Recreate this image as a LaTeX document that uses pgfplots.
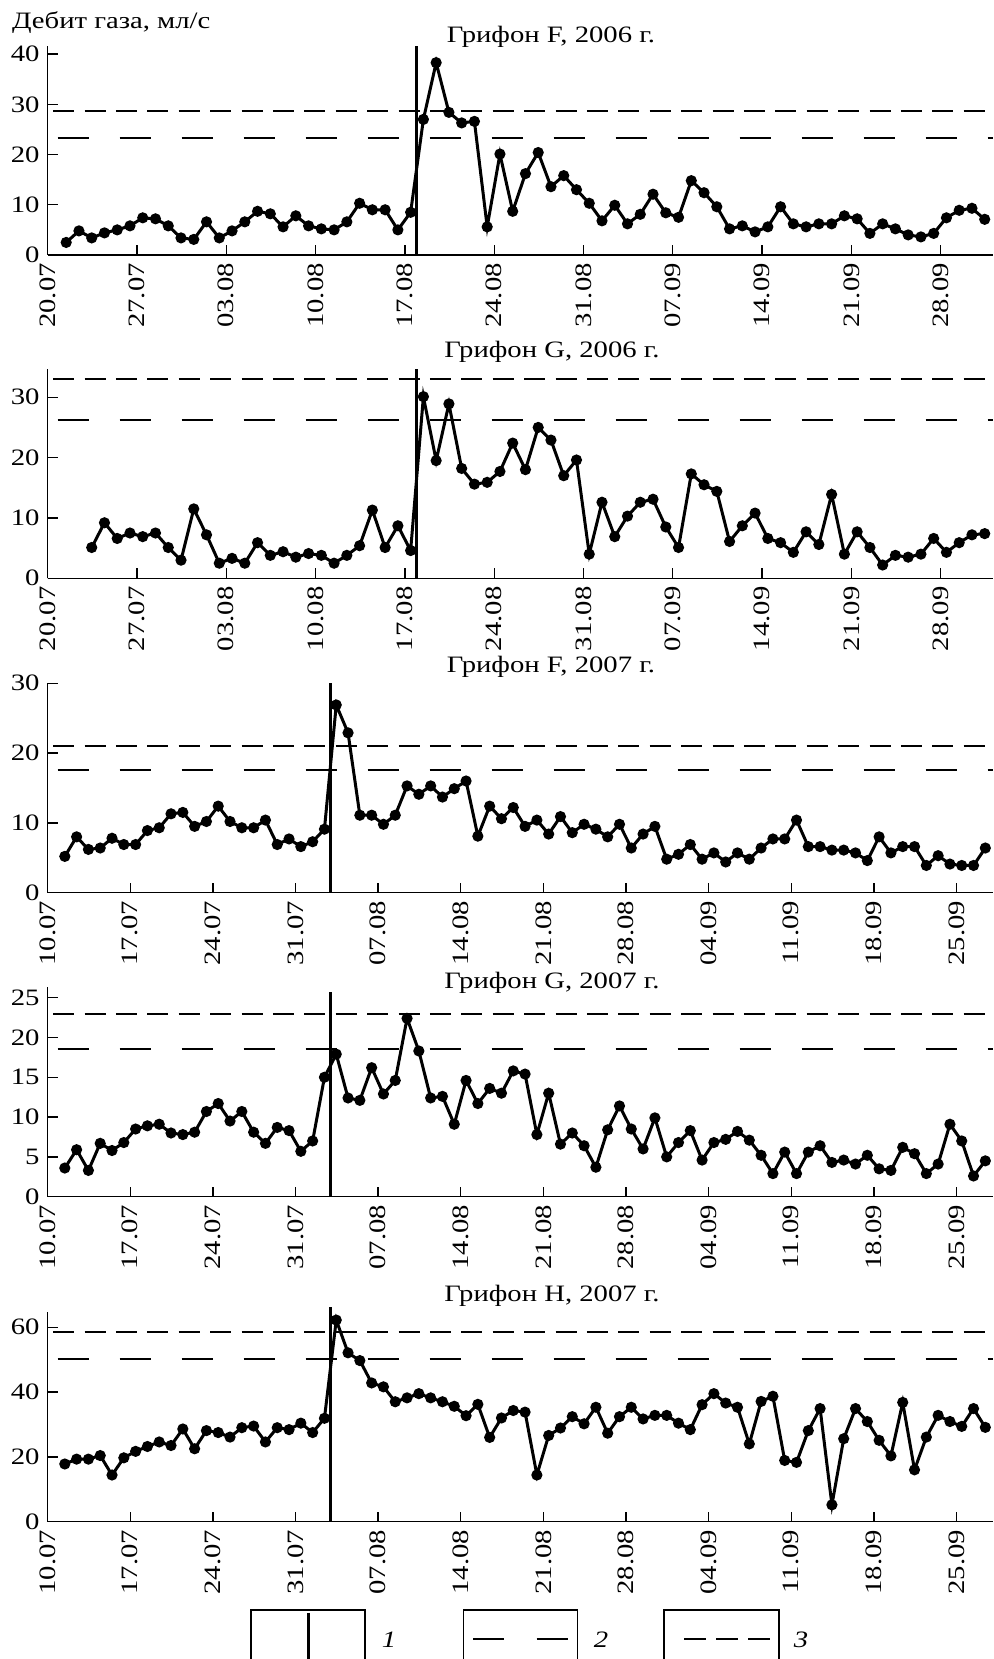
\documentclass[border=0pt]{standalone}
\usepackage{fontspec}
\setmainfont{Liberation Serif}[FakeStretch=1.22]
\usepackage{pgfplots}
\pgfplotsset{compat=1.18}
\pgfplotsset{
  gas/.style={
    scale only axis, width=472.65pt, height=104.7pt,
    axis x line=bottom, axis y line=left,
    axis line style={-, line width=0.7pt},
    tick align=inside, major tick length=5pt,
    tick style={black, line width=0.7pt},
    xmin=-0.45, ymin=0,
    tick label style={font=\fontsize{11.75}{14}\selectfont},
    xticklabel style={rotate=90, anchor=east},
    /pgf/number format/assume math mode=true,
    clip=false,
  },
  gasA/.style={gas, xmax=73.65,
    xtick={-0.45,6.55,13.55,20.55,27.55,34.55,41.55,48.55,55.55,62.55,69.55},
    xticklabels={20.07,27.07,03.08,10.08,17.08,24.08,31.08,07.09,14.09,21.09,28.09}},
  gasB/.style={gas, xmax=79.65,
    xtick={-0.45,6.55,13.55,20.55,27.55,34.55,41.55,48.55,55.55,62.55,69.55,76.55},
    xticklabels={10.07,17.07,24.07,31.07,07.08,14.08,21.08,28.08,04.09,11.09,18.09,25.09}},
  data/.style={black, line width=1.5pt, mark=*, mark size=2pt, mark options={solid}},
  lvl2/.style={black, line width=1pt, dash pattern=on 15.5pt off 15.5pt, dash phase=26pt},
  lvl3/.style={black, line width=1pt, dash pattern=on 10.5pt off 5.2pt, dash phase=13pt},
  onset/.style={black, line width=1.5pt},
}
\begin{document}
\fontsize{11.75}{14}\selectfont
\begin{tikzpicture}
\useasboundingbox (0,0) rectangle (497pt,829.5pt);
% Panel 1
\begin{axis}[gasA, at={(23.85pt,702pt)}, anchor=south west, ymax=41.7, ytick={0,10,20,30,40}]
\addplot[lvl3] coordinates {(-0.45,28.6) (73.65,28.6)};
\addplot[lvl2] coordinates {(-0.45,23.3) (73.65,23.3)};
\addplot[onset] coordinates {(28.45,0) (28.45,41.7)};
\addplot[data] coordinates {
(1,2.5)(2,4.8)(3,3.4)(4,4.4)(5,5.0)(6,5.8)(7,7.4)(8,7.2)(9,5.8)(10,3.4)
(11,3.1)(12,6.6)(13,3.4)(14,4.8)(15,6.6)(16,8.7)(17,8.2)(18,5.6)(19,7.8)(20,5.8)
(21,5.2)(22,5.0)(23,6.6)(24,10.3)(25,9.0)(26,9.0)(27,5.0)(28,8.5)(29,27.0)(30,38.3)
(31,28.4)(32,26.3)(33,26.6)(34,5.6)(35,20.1)(36,8.7)(37,16.2)(38,20.4)(39,13.6)(40,15.8)
(41,13.0)(42,10.3)(43,6.8)(44,9.9)(45,6.2)(46,8.1)(47,12.1)(48,8.4)(49,7.5)(50,14.8)
(51,12.4)(52,9.6)(53,5.2)(54,5.8)(55,4.6)(56,5.6)(57,9.6)(58,6.2)(59,5.6)(60,6.2)
(61,6.2)(62,7.8)(63,7.2)(64,4.3)(65,6.2)(66,5.2)(67,4.0)(68,3.6)(69,4.3)(70,7.4)
(71,8.9)(72,9.3)(73,7.1)};
\end{axis}
% Panel 2
\begin{axis}[gasA, at={(23.85pt,540.35pt)}, anchor=south west, ymax=34.7, ytick={0,10,20,30}]
\addplot[lvl3] coordinates {(-0.45,33.1) (73.65,33.1)};
\addplot[lvl2] coordinates {(-0.45,26.25) (73.65,26.25)};
\addplot[onset] coordinates {(28.45,0) (28.45,34.7)};
\addplot[data] coordinates {
(3,5.1)(4,9.2)(5,6.6)(6,7.5)(7,6.9)(8,7.5)(9,5.1)(10,3.0)
(11,11.5)(12,7.2)(13,2.5)(14,3.3)(15,2.5)(16,5.9)(17,3.8)(18,4.4)(19,3.5)(20,4.1)
(21,3.8)(22,2.5)(23,3.8)(24,5.4)(25,11.3)(26,5.1)(27,8.7)(28,4.6)(29,30.1)(30,19.5)
(31,28.9)(32,18.2)(33,15.6)(34,15.9)(35,17.7)(36,22.4)(37,18.0)(38,25.0)(39,22.9)(40,17.0)
(41,19.6)(42,4.0)(43,12.6)(44,6.9)(45,10.3)(46,12.6)(47,13.1)(48,8.5)(49,5.1)(50,17.3)
(51,15.5)(52,14.4)(53,6.1)(54,8.7)(55,10.8)(56,6.6)(57,5.9)(58,4.3)(59,7.7)(60,5.6)
(61,13.9)(62,4.0)(63,7.7)(64,5.1)(65,2.2)(66,3.8)(67,3.5)(68,4.0)(69,6.6)(70,4.3)
(71,5.9)(72,7.2)(73,7.4)};
\end{axis}
% Panel 3
\begin{axis}[gasB, at={(23.85pt,383.15pt)}, anchor=south west, ymax=30, ytick={0,10,20,30}]
\addplot[lvl3] coordinates {(-0.45,21.0) (79.65,21.0)};
\addplot[lvl2] coordinates {(-0.45,17.6) (79.65,17.6)};
\addplot[onset] coordinates {(23.55,0) (23.55,30)};
\addplot[data] coordinates {
(1,5.2)(2,8.0)(3,6.2)(4,6.4)(5,7.8)(6,6.9)(7,6.9)(8,8.9)(9,9.3)(10,11.3)
(11,11.5)(12,9.5)(13,10.2)(14,12.4)(15,10.2)(16,9.3)(17,9.3)(18,10.4)(19,6.9)(20,7.7)
(21,6.6)(22,7.3)(23,9.1)(24,26.9)(25,22.9)(26,11.1)(27,11.1)(28,9.8)(29,11.1)(30,15.3)
(31,14.1)(32,15.3)(33,13.7)(34,14.9)(35,16.0)(36,8.1)(37,12.4)(38,10.6)(39,12.2)(40,9.5)
(41,10.4)(42,8.4)(43,10.9)(44,8.6)(45,9.8)(46,9.1)(47,8.0)(48,9.8)(49,6.4)(50,8.4)
(51,9.5)(52,4.8)(53,5.5)(54,6.9)(55,4.8)(56,5.7)(57,4.4)(58,5.7)(59,4.8)(60,6.4)
(61,7.7)(62,7.7)(63,10.4)(64,6.6)(65,6.6)(66,6.1)(67,6.1)(68,5.7)(69,4.6)(70,8.0)
(71,5.7)(72,6.6)(73,6.6)(74,3.9)(75,5.3)(76,4.1)(77,3.9)(78,3.9)(79,6.4)};
\end{axis}
% Panel 4
\begin{axis}[gasB, at={(23.85pt,231.15pt)}, anchor=south west, ymax=26.3, ytick={0,5,10,15,20,25}]
\addplot[lvl3] coordinates {(-0.45,22.95) (79.65,22.95)};
\addplot[lvl2] coordinates {(-0.45,18.6) (79.65,18.6)};
\addplot[onset] coordinates {(23.55,0) (23.55,25.7)};
\addplot[data] coordinates {
(1,3.6)(2,5.9)(3,3.3)(4,6.7)(5,5.8)(6,6.8)(7,8.5)(8,8.9)(9,9.1)(10,8.0)
(11,7.8)(12,8.1)(13,10.7)(14,11.7)(15,9.5)(16,10.7)(17,8.1)(18,6.7)(19,8.7)(20,8.3)
(21,5.7)(22,7.0)(23,15.0)(24,17.9)(25,12.4)(26,12.1)(27,16.2)(28,12.9)(29,14.6)(30,22.4)
(31,18.3)(32,12.4)(33,12.6)(34,9.1)(35,14.6)(36,11.7)(37,13.6)(38,13.0)(39,15.8)(40,15.4)
(41,7.8)(42,13.0)(43,6.6)(44,8.0)(45,6.4)(46,3.7)(47,8.4)(48,11.4)(49,8.5)(50,6.0)
(51,9.9)(52,5.0)(53,6.8)(54,8.3)(55,4.6)(56,6.8)(57,7.2)(58,8.2)(59,7.1)(60,5.2)
(61,2.9)(62,5.6)(63,2.9)(64,5.6)(65,6.4)(66,4.3)(67,4.6)(68,4.1)(69,5.2)(70,3.5)
(71,3.3)(72,6.2)(73,5.4)(74,2.9)(75,4.1)(76,9.1)(77,7.0)(78,2.6)(79,4.5)};
\end{axis}
% Panel 5
\begin{axis}[gasB, at={(23.85pt,68.65pt)}, anchor=south west, ymax=64.6, ytick={0,20,40,60}]
\addplot[lvl3] coordinates {(-0.45,58.6) (79.65,58.6)};
\addplot[lvl2] coordinates {(-0.45,50.2) (79.65,50.2)};
\addplot[onset] coordinates {(23.55,0) (23.55,66.3)};
\addplot[data] coordinates {
(1,17.8)(2,19.3)(3,19.3)(4,20.4)(5,14.4)(6,19.7)(7,21.7)(8,23.2)(9,24.6)(10,23.5)
(11,28.6)(12,22.5)(13,28.1)(14,27.5)(15,26.1)(16,29.0)(17,29.5)(18,24.6)(19,29.0)(20,28.4)
(21,30.4)(22,27.5)(23,31.9)(24,62.2)(25,52.1)(26,49.7)(27,42.8)(28,41.6)(29,37.0)(30,38.2)
(31,39.5)(32,38.2)(33,37.0)(34,35.6)(35,32.7)(36,36.2)(37,26.0)(38,32.0)(39,34.3)(40,33.8)
(41,14.4)(42,26.6)(43,28.9)(44,32.4)(45,30.2)(46,35.3)(47,27.3)(48,32.4)(49,35.3)(50,31.7)
(51,32.8)(52,32.8)(53,30.4)(54,28.4)(55,36.1)(56,39.5)(57,36.6)(58,35.3)(59,24.0)(60,37.1)
(61,38.7)(62,18.9)(63,18.3)(64,28.1)(65,34.9)(66,5.2)(67,25.6)(68,34.9)(69,30.9)(70,25.1)
(71,20.3)(72,36.8)(73,16.0)(74,26.1)(75,32.8)(76,30.9)(77,29.4)(78,34.9)(79,29.1)};
\end{axis}
% texts
\node[anchor=base west, inner sep=0pt] at (5.85pt,815.35pt) {Дебит газа, мл/с};
\node[anchor=base, inner sep=0pt] at (275.5pt,808.35pt) {Грифон F, 2006 г.};
\node[anchor=base, inner sep=0pt] at (276pt,650.85pt) {Грифон G, 2006 г.};
\node[anchor=base, inner sep=0pt] at (275.5pt,493.15pt) {Грифон F, 2007 г.};
\node[anchor=base, inner sep=0pt] at (276pt,335.35pt) {Грифон G, 2007 г.};
\node[anchor=base, inner sep=0pt] at (276pt,178.65pt) {Грифон H, 2007 г.};
% legend
\draw[line width=0.55pt] (125.5pt,-2pt) -- (125.5pt,24.5pt) -- (182.5pt,24.5pt) -- (182.5pt,-2pt);
\draw[line width=1.5pt] (154.15pt,23pt) -- (154.15pt,-2pt);
\node[anchor=base, inner sep=0pt] at (194.5pt,5.5pt) {\textit{1}};
\draw[line width=0.55pt] (231.65pt,-2pt) -- (231.65pt,24.5pt) -- (288.85pt,24.5pt) -- (288.85pt,-2pt);
\draw[line width=1pt, dash pattern=on 15.5pt off 16.2pt] (236.65pt,10pt) -- (283.85pt,10pt);
\node[anchor=base, inner sep=0pt] at (300.5pt,5.5pt) {\textit{2}};
\draw[line width=0.55pt] (332pt,-2pt) -- (332pt,24.5pt) -- (389.5pt,24.5pt) -- (389.5pt,-2pt);
\draw[line width=1pt, dash pattern=on 11pt off 5pt] (342pt,10pt) -- (385pt,10pt);
\node[anchor=base, inner sep=0pt] at (400.5pt,5.5pt) {\textit{3}};
\end{tikzpicture}
\end{document}
